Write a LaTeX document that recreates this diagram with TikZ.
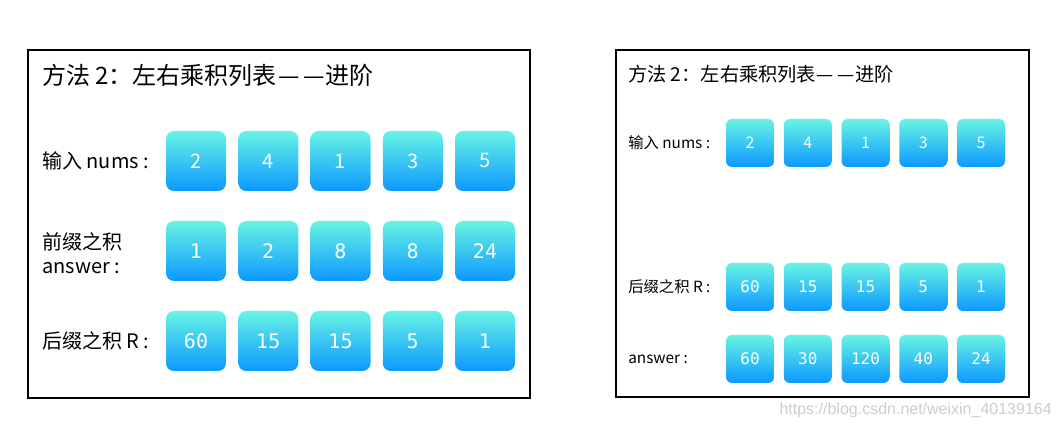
\documentclass[tikz,border=0pt]{standalone}
\usepackage{fontspec}
\setmainfont{Noto Sans CJK SC}
\newfontfamily\numfont{DejaVu Sans Mono}
\newfontfamily\markfont{Liberation Sans}
\usetikzlibrary{positioning}
\definecolor{celltop}{RGB}{104,244,228}
\definecolor{cellbot}{RGB}{12,152,255}
\definecolor{markgray}{RGB}{205,205,205}
\newcommand{\twodash}{\kern0.05em—\kern0.15em—\kern0.05em}

\begin{document}
\begin{tikzpicture}[x=0.75pt,y=-0.75pt,every node/.style={inner sep=0pt},
frame/.style={draw,line width=2.2pt},
cell/.style={rounded corners=#1,top color=celltop,bottom color=cellbot,text=white},
cellL/.style={cell=6pt,minimum size=45pt,font=\numfont\fontsize{15}{15}\selectfont},
cellR/.style={cell=4.5pt,minimum size=36pt,font=\numfont\fontsize{12}{12}\selectfont},
labL/.style={anchor=west,font=\fontsize{15}{18}\selectfont},
labR/.style={anchor=west,font=\fontsize{11.5}{13}\selectfont}]
\useasboundingbox (0,0) rectangle (1060,427);

% left panel
\draw[frame] (28,50) rectangle (530,398);
\node[anchor=west,font=\fontsize{18}{20}\selectfont] (titleL) at (42,75) {方法 2：左右乘积列表\twodash 进阶};
\node[labL] (numsL) at (42,161) {输入 nums :};
\node[labL,align=left] (preL) at (42,253) {前缀之积\\ answer :};
\node[labL] (sufL) at (42,341) {后缀之积 R :};
\foreach \v [count=\i] in {2,4,1,3,5}
  \node[cellL,font=\fontsize{15}{15}\selectfont] (inL\i) at ({196+72.25*(\i-1)},161) {\v};
\foreach \v [count=\i] in {1,2,8,8,24}
  \node[cellL] (preL\i) at ({196+72.25*(\i-1)},251) {\v};
\foreach \v [count=\i] in {60,15,15,5,1}
  \node[cellL] (sufL\i) at ({196+72.25*(\i-1)},341) {\v};

% right panel
\draw[frame] (616,50) rectangle (1029,397);
\node[anchor=west,font=\fontsize{14.4}{16}\selectfont] (titleR) at (628,74) {方法 2：左右乘积列表\twodash 进阶};
\node[labR] (numsR) at (628,143) {输入 nums :};
\node[labR] (sufR) at (628,287) {后缀之积 R :};
\node[labR] (ansR) at (628,359) {answer :};
\foreach \v [count=\i] in {2,4,1,3,5}
  \node[cellR,font=\fontsize{12}{12}\selectfont] (inR\i) at ({750+57.75*(\i-1)},143) {\v};
\foreach \v [count=\i] in {60,15,15,5,1}
  \node[cellR] (sufR\i) at ({750+57.75*(\i-1)},287) {\v};
\foreach \v [count=\i] in {60,30,120,40,24}
  \node[cellR] (ansR\i) at ({750+57.75*(\i-1)},359) {\v};

\node[anchor=east,text=markgray,font=\markfont\fontsize{12}{12}\selectfont] (mark) at (1052,410) {https://blog.csdn.net/weixin\_40139164};
\end{tikzpicture}
\end{document}
